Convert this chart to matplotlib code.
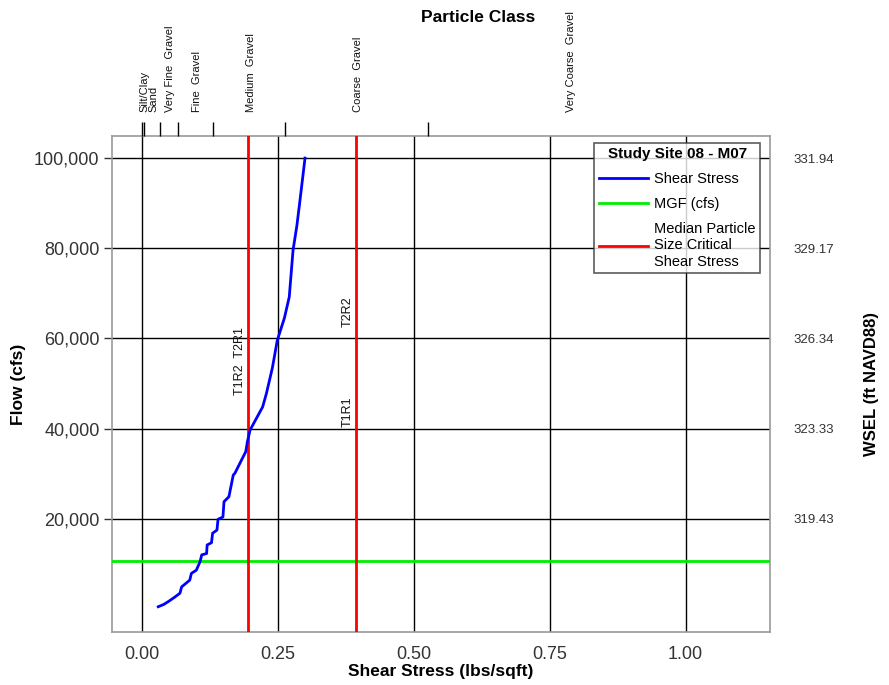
import matplotlib
matplotlib.use("Agg")
import matplotlib.pyplot as plt
from matplotlib.transforms import blended_transform_factory

plt.rcParams["font.family"] = ["Liberation Sans", "DejaVu Sans"]

# shear stress curve (lbs/sqft) vs flow (cfs)
shear = [0.030, 0.040, 0.048, 0.060, 0.070, 0.073, 0.080, 0.088, 0.091, 0.100,
         0.107, 0.110, 0.119, 0.120, 0.128, 0.130, 0.138, 0.140, 0.149, 0.151,
         0.160, 0.168, 0.171, 0.191, 0.194, 0.199, 0.222, 0.229, 0.240, 0.249,
         0.262, 0.271, 0.278, 0.285, 0.290, 0.300]
flow = [500, 1000, 1600, 2600, 3500, 4900, 5600, 6400, 7900, 8600,
        10500, 12000, 12300, 14200, 14700, 16800, 17500, 19900, 20400, 23800,
        24900, 29700, 30100, 34900, 37100, 39700, 44800, 47800, 53500, 59600,
        64500, 69200, 79600, 85000, 89900, 100000]

mgf_flow = 10600
critical_shear = [0.195, 0.393]

# particle class boundaries (critical shear) and labels
class_edges = [0.0, 0.004, 0.033, 0.066, 0.13, 0.263, 0.526]
class_names = ["Silt/Clay", "Sand", "Very Fine  Gravel", "Fine  Gravel",
               "Medium  Gravel", "Coarse  Gravel", "Very Coarse  Gravel"]
class_pos = [0.004, 0.021, 0.052, 0.101, 0.200, 0.397, 0.790]

# reach labels on the critical shear lines
reach_labels = ["T1R2  T2R1", "T2R2", "T1R1"]
reach_x = [0.195, 0.393, 0.393]
reach_flow = [47400, 62500, 40300]

flow_ticks = [20000, 40000, 60000, 80000, 100000]
wsel_labels = ["319.43", "323.33", "326.34", "329.17", "331.94"]
shear_ticks = [0.0, 0.25, 0.5, 0.75, 1.0]

fig = plt.figure(figsize=(8.89, 6.85), dpi=100)
ax = fig.add_axes([0.126, 0.0774, 0.74, 0.7241])

ax.set_xlim(-0.055, 1.155)
ax.set_ylim(-5100, 104900)

for x in shear_ticks:
    ax.axvline(x, color="black", lw=1, zorder=1)
for y in flow_ticks:
    ax.axhline(y, color="black", lw=1, zorder=1)

ax.plot(shear, flow, color="#0000ff", lw=2, zorder=4, label="Shear Stress")
ax.axhline(mgf_flow, color="#00ee00", lw=2, zorder=3, label="MGF (cfs)")
for i, c in enumerate(critical_shear):
    ax.axvline(c, color="#ff0000", lw=2, zorder=3,
               label="Median Particle\nSize Critical\nShear Stress" if i == 0 else None)

for lab, x, y in zip(reach_labels, reach_x, reach_flow):
    ax.text(x - 0.004, y, lab, rotation=90, ha="right", va="bottom",
            fontsize=9, color="#111111", zorder=5)

ax.set_xticks(shear_ticks)
ax.set_xticklabels(["0.00", "0.25", "0.50", "0.75", "1.00"])
ax.set_yticks(flow_ticks)
ax.set_yticklabels(["20,000", "40,000", "60,000", "80,000", "100,000"])
ax.tick_params(axis="x", length=0, pad=10, labelsize=13, labelcolor="#333333")
ax.tick_params(axis="y", length=6, width=1, color="#333333", pad=3,
               labelsize=13, labelcolor="#333333")
for s in ax.spines.values():
    s.set_color("#999999")
    s.set_linewidth(1.2)

ax.set_xlabel("Shear Stress (lbs/sqft)", fontsize=12.5, fontweight="bold", labelpad=1)
ax.set_ylabel("Flow (cfs)", fontsize=12.5, fontweight="bold", labelpad=6)

# right axis: water surface elevation
axr = ax.twinx()
axr.set_ylim(ax.get_ylim())
axr.set_yticks(flow_ticks)
axr.set_yticklabels(wsel_labels)
axr.tick_params(axis="y", length=0, pad=17, labelsize=9.5, labelcolor="#333333")
axr.set_ylabel("WSEL (ft NAVD88)", fontsize=12, fontweight="bold", va="center")
axr.yaxis.set_label_coords(1.154, 0.5)
for s in axr.spines.values():
    s.set_visible(False)

# top axis: particle class
axt = ax.twiny()
axt.set_xlim(ax.get_xlim())
axt.set_xticks(class_edges)
axt.set_xticklabels([])
axt.tick_params(axis="x", direction="out", length=10, width=1, color="black", pad=0)
for s in axt.spines.values():
    s.set_visible(False)

trans = blended_transform_factory(ax.transData, ax.transAxes)
for name, x in zip(class_names, class_pos):
    ax.text(x, 1.048, name, rotation=90, ha="center", va="bottom",
            fontsize=8, color="#111111", transform=trans,
            linespacing=0.75)
fig.text(0.538, 0.975, "Particle Class", ha="center", va="center",
         fontsize=12.5, fontweight="bold")

leg = ax.legend(loc="upper right", bbox_to_anchor=(0.985, 0.986),
                title="Study Site 08 - M07", fontsize=10.5, frameon=True,
                fancybox=False, edgecolor="#333333", handlelength=3.4,
                borderpad=0.3, labelspacing=0.75, handletextpad=0.4,
                borderaxespad=0)
leg.get_title().set_fontweight("bold")
leg.get_title().set_fontsize(11)
leg.get_frame().set_linewidth(1.2)
leg.set_zorder(10)

fig.savefig("out.png", dpi=100)
